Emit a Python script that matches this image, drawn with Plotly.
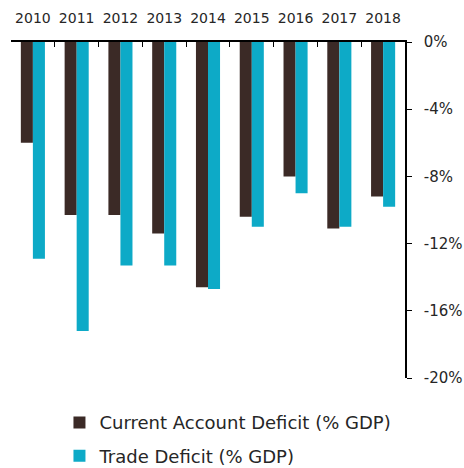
import plotly.graph_objects as go

years = ["2010", "2011", "2012", "2013", "2014", "2015", "2016", "2017", "2018"]
current_account = [-6.0, -10.3, -10.3, -11.4, -14.6, -10.4, -8.0, -11.1, -9.2]
trade_deficit = [-12.9, -17.2, -13.3, -13.3, -14.7, -11.0, -9.0, -11.0, -9.8]
y_ticks = [0, -4, -8, -12, -16, -20]
y_tick_labels = ["0%", "-4%", "-8%", "-12%", "-16%", "-20%"]

fig = go.Figure()
fig.add_trace(go.Bar(x=years, y=current_account, name="Current Account Deficit (% GDP)",
                     legendgroup="a",
                     marker=dict(color="#3B2A26", line=dict(width=0))))
fig.add_trace(go.Bar(x=years, y=trade_deficit, name="Trade Deficit (% GDP)",
                     legendgroup="b",
                     marker=dict(color="#0DAAC7", line=dict(width=0))))

fig.update_layout(
    width=464, height=468,
    margin=dict(l=11, r=59, t=42, b=90, autoexpand=False),
    paper_bgcolor="white", plot_bgcolor="white",
    barmode="group", bargap=0.45, bargroupgap=0,
    font=dict(family="DejaVu Sans, sans-serif", color="#262626", size=14),
    showlegend=True,
    legend=dict(orientation="v", x=0.123, xanchor="left", y=-0.078, yanchor="top",
                font=dict(size=18), itemwidth=30, tracegroupgap=7, traceorder="grouped"),
)
fig.update_xaxes(side="top", type="category", showline=True, linecolor="black", linewidth=1.5,
                 ticks="inside", ticklen=5, tickcolor="black", tickson="boundaries",
                 showgrid=False, tickangle=0, automargin=False, ticklabelstandoff=12,
                 tickfont=dict(size=14))
fig.update_yaxes(side="right", range=[-20, 0], tickvals=y_ticks, ticktext=y_tick_labels,
                 showline=True, linecolor="black", linewidth=1.5, ticks="outside", ticklen=5,
                 tickcolor="black", showgrid=False, zeroline=False, automargin=False,
                 ticklabelstandoff=9, tickfont=dict(size=15))

fig.write_html("out.html", config={"displayModeBar": False},
               post_script="document.body.style.margin='0';document.body.style.overflow='hidden';")
